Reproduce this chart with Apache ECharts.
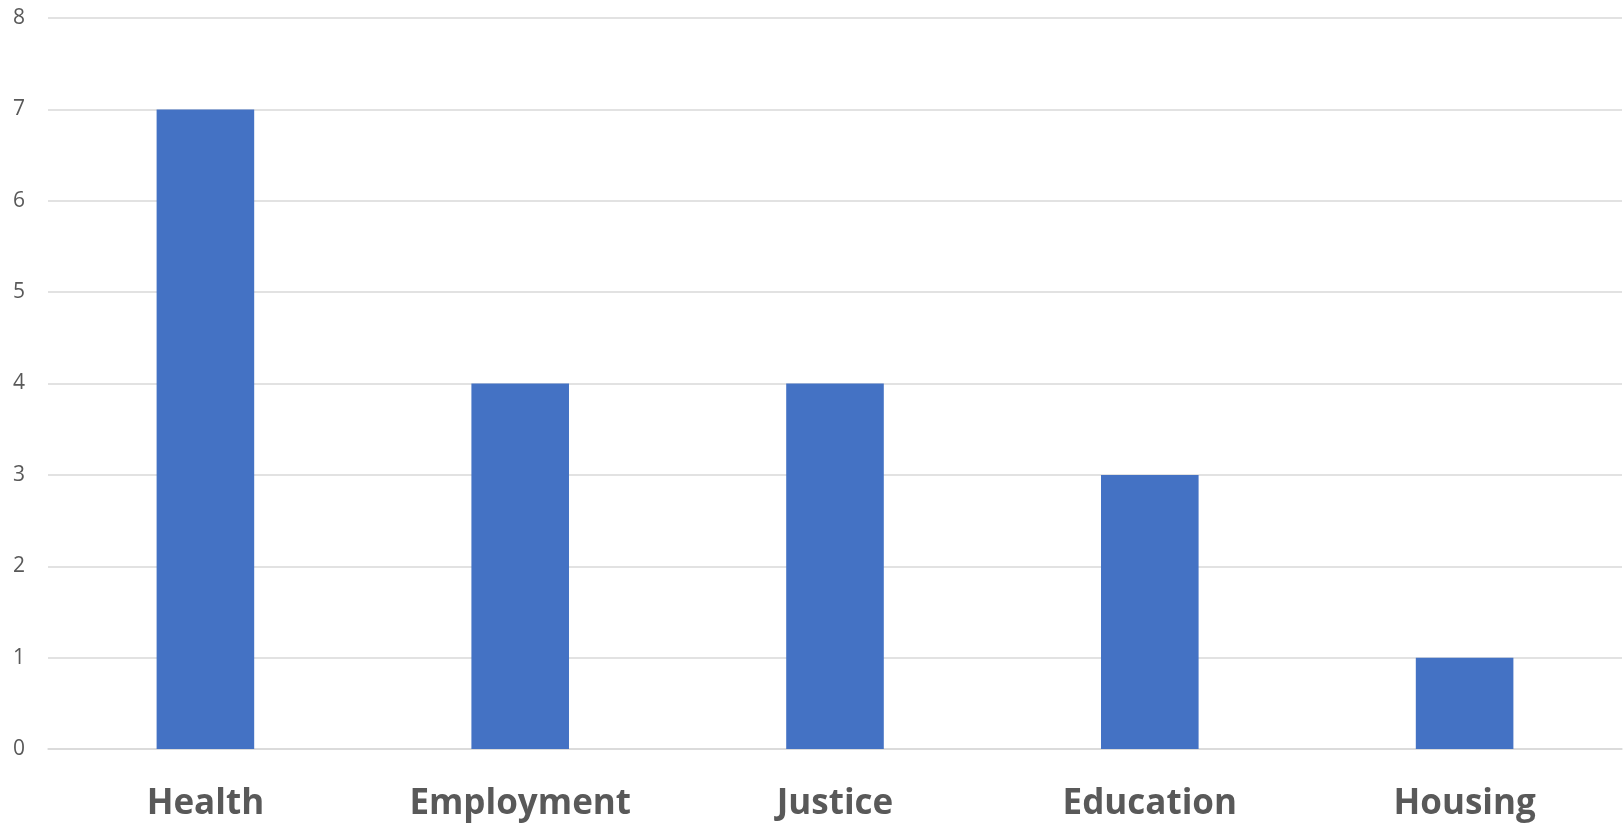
<!DOCTYPE html>
<html>
<head>
<meta charset="utf-8">
<script src="https://cdn.jsdelivr.net/npm/echarts@6/dist/echarts.min.js"></script>
<style>
html,body{margin:0;padding:0;background:#fff;}
#chart{width:1623px;height:829px;}
</style>
</head>
<body>
<div id="chart"></div>
<script>
var categories = ['Health', 'Employment', 'Justice', 'Education', 'Housing'];
var values = [7, 4, 4, 3, 1];
var yTicks = [0, 1, 2, 3, 4, 5, 6, 7, 8];

var chart = echarts.init(document.getElementById('chart'), null, {renderer: 'canvas'});
chart.setOption({
  animation: false,
  backgroundColor: '#ffffff',
  grid: {left: 48, right: 1, top: 18, bottom: 80, containLabel: false},
  xAxis: {
    type: 'category',
    data: categories,
    axisLine: {show: true, lineStyle: {color: '#d9d9d9', width: 1.5}},
    axisTick: {show: false},
    axisLabel: {
      color: '#595959',
      fontFamily: 'Open Sans',
      fontWeight: 'bold',
      fontSize: 35,
      margin: 38
    }
  },
  yAxis: {
    type: 'value',
    min: yTicks[0],
    max: yTicks[yTicks.length - 1],
    interval: 1,
    axisLine: {show: false},
    axisTick: {show: false},
    splitLine: {lineStyle: {color: '#d9d9d9', width: 1.5}},
    axisLabel: {
      color: '#595959',
      fontFamily: 'Open Sans',
      fontSize: 21,
      margin: 23
    }
  },
  series: [{
    type: 'bar',
    data: values,
    barWidth: '31%',
    itemStyle: {color: '#4472c4'}
  }]
});
</script>
</body>
</html>
